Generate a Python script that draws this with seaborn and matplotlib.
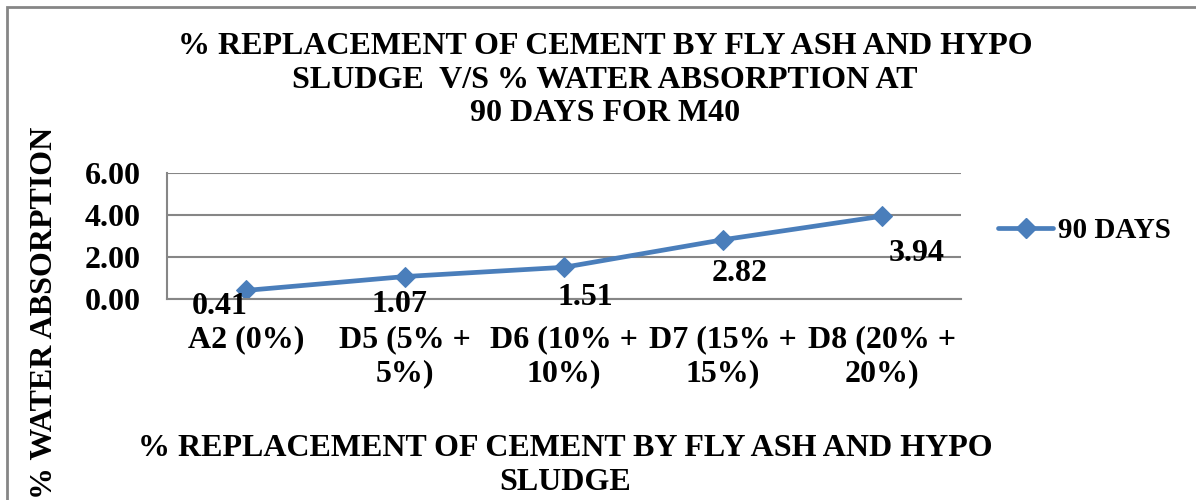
import matplotlib
matplotlib.use("Agg")
import matplotlib.pyplot as plt
import seaborn as sns
import pandas as pd
from matplotlib.patches import Rectangle
from matplotlib.lines import Line2D

categories = ["A2 (0%)", "D5 (5% +\n5%)", "D6 (10% +\n10%)", "D7 (15% +\n15%)", "D8 (20% +\n20%)"]
absorption = [0.41, 1.07, 1.51, 2.82, 3.94]
y_ticks = [0, 2, 4, 6]
series_name = "90 DAYS"

sns.set_style("white")
plt.rcParams['font.family'] = ['Liberation Serif', 'DejaVu Serif']
plt.rcParams['font.weight'] = 'bold'
plt.rcParams['text.color'] = 'black'
plt.rcParams['xtick.color'] = 'black'
plt.rcParams['ytick.color'] = 'black'

blue = "#4A7EBB"
grid_col = "#868686"
fs = 23

df = pd.DataFrame({"cat": categories, "val": absorption, "series": series_name})

fig = plt.figure(figsize=(11.96, 5.0), dpi=100)
ax = fig.add_axes([167/1196, 1 - 299/500, (961-167)/1196, (299-173)/500])

sns.lineplot(data=df, x="cat", y="val", hue="series", palette=[blue], marker="D",
             markersize=10, markeredgecolor=blue, linewidth=3.4, sort=False, ax=ax, legend=False)

ax.set_xlim(-0.5, len(categories) - 0.5)
ax.set_ylim(0, 6)
ax.set_yticks(y_ticks)
ax.set_yticklabels([f"{v:.2f}" for v in y_ticks], fontsize=fs, fontweight='bold')
ax.set_xticks(range(len(categories)))
ax.set_xticklabels(categories, fontsize=fs, fontweight='bold', linespacing=1.22)
ax.tick_params(axis='both', length=0)
ax.tick_params(axis='x', pad=19)
ax.tick_params(axis='y', pad=19)
ax.set_xlabel("")
ax.set_ylabel("")

for y in y_ticks:
    ax.axhline(y, color=grid_col, lw=1.5, zorder=0)
for s in ["top", "right"]:
    ax.spines[s].set_visible(False)
for s in ["left", "bottom"]:
    ax.spines[s].set_color(grid_col)
    ax.spines[s].set_linewidth(1.5)

# data labels (Excel-style, below points)
offsets = [(-19.5, -11.5), (-4.5, -20), (15, -21.5), (12, -24.5), (25, -26.5)]
for i, (v, off) in enumerate(zip(absorption, offsets)):
    ax.annotate(f"{v:.2f}", (i, v), xytext=off, textcoords="offset points",
                ha="center", va="center", fontsize=fs, fontweight='bold', clip_on=False)

# legend
h = Line2D([], [], color=blue, lw=3.4, marker="D", markersize=10, markeredgecolor=blue)
fig.legend([h], [series_name], loc="center left", bbox_to_anchor=(998/1196, 1 - 231/500),
           frameon=False, handlelength=1.9, handletextpad=0.14, borderpad=0, borderaxespad=0,
           prop={'family': 'Liberation Serif', 'weight': 'bold', 'size': 21})

fig.text(605/1196, 1 - 80/500,
         "% REPLACEMENT OF CEMENT BY FLY ASH AND HYPO\nSLUDGE  V/S % WATER ABSORPTION AT\n90 DAYS FOR M40",
         ha="center", va="center", fontsize=fs, fontweight='bold', linespacing=1.2)
fig.text(565/1196, 1 - 465.5/500, "% REPLACEMENT OF CEMENT BY FLY ASH AND HYPO\nSLUDGE",
         ha="center", va="center", fontsize=fs, fontweight='bold', linespacing=1.25)
fig.text(45/1196, 1 - 313/500, "% WATER ABSORPTION", rotation=90,
         ha="center", va="center", fontsize=fs, fontweight='bold')

fig.patches.append(Rectangle((7/1196, -0.1), 1.2, 1 - 7/500 + 0.1, transform=fig.transFigure,
                             fill=False, edgecolor=grid_col, lw=2))

fig.savefig("out.png", dpi=100)
